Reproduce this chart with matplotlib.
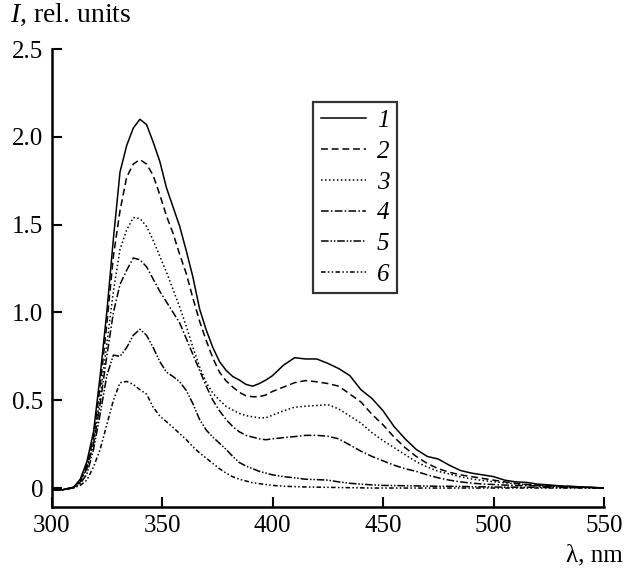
import matplotlib
matplotlib.use("Agg")
import matplotlib.pyplot as plt

wavelength = [300, 305, 310,
              313, 316, 319, 322, 325, 328, 331, 334, 337, 340,
              343, 346, 349, 352, 355, 358, 361, 364, 367, 370,
              373, 376, 379, 382, 385, 388, 391, 394, 397, 400,
              405, 410, 415, 420, 425, 430, 435, 440, 445, 450,
              455, 460, 465, 470, 475, 480, 485, 490, 495, 500,
              505, 510, 515, 520, 525, 530, 535, 540, 545, 550]

curve1 = [-0.012, -0.01, 0.005,
          0.05, 0.15, 0.32, 0.64, 1.00, 1.42, 1.80, 1.95, 2.05, 2.10,
          2.07, 1.97, 1.86, 1.71, 1.60, 1.49, 1.35, 1.20, 1.02, 0.90,
          0.80, 0.72, 0.67, 0.635, 0.615, 0.59, 0.58, 0.595, 0.615, 0.64,
          0.70, 0.742, 0.735, 0.735, 0.71, 0.68, 0.64, 0.56, 0.51, 0.44,
          0.35, 0.28, 0.22, 0.18, 0.165, 0.13, 0.10, 0.085, 0.075, 0.065,
          0.045, 0.035, 0.032, 0.022, 0.018, 0.012, 0.01, 0.006, 0.004, 0.0]

curve2 = [-0.012, -0.01, 0.004,
          0.045, 0.13, 0.29, 0.58, 0.93, 1.32, 1.58, 1.77, 1.845, 1.87,
          1.845, 1.78, 1.67, 1.55, 1.45, 1.33, 1.22, 1.08, 0.95, 0.84,
          0.74, 0.66, 0.61, 0.575, 0.545, 0.525, 0.52, 0.52, 0.53, 0.55,
          0.575, 0.60, 0.612, 0.605, 0.595, 0.58, 0.535, 0.49, 0.42, 0.36,
          0.29, 0.23, 0.18, 0.14, 0.11, 0.09, 0.075, 0.065, 0.055, 0.045,
          0.035, 0.027, 0.02, 0.015, 0.012, 0.01, 0.008, 0.005, 0.003, 0.0]

curve3 = [-0.012, -0.01, 0.004,
          0.04, 0.12, 0.27, 0.52, 0.82, 1.12, 1.36, 1.47, 1.54, 1.535,
          1.49, 1.41, 1.32, 1.23, 1.13, 1.03, 0.92, 0.80, 0.69, 0.60,
          0.54, 0.50, 0.465, 0.444, 0.425, 0.412, 0.406, 0.40, 0.40, 0.415,
          0.44, 0.46, 0.466, 0.47, 0.475, 0.45, 0.41, 0.37, 0.315, 0.27,
          0.23, 0.19, 0.15, 0.12, 0.095, 0.08, 0.064, 0.052, 0.043, 0.036,
          0.03, 0.024, 0.02, 0.015, 0.012, 0.01, 0.008, 0.005, 0.003, 0.0]

curve4 = [-0.012, -0.01, 0.003,
          0.035, 0.11, 0.25, 0.48, 0.75, 1.00, 1.16, 1.24, 1.31, 1.30,
          1.26, 1.19, 1.12, 1.06, 1.00, 0.94, 0.85, 0.76, 0.67, 0.58,
          0.50, 0.44, 0.39, 0.35, 0.32, 0.30, 0.29, 0.28, 0.275, 0.28,
          0.287, 0.293, 0.30, 0.30, 0.295, 0.28, 0.245, 0.21, 0.18, 0.155,
          0.13, 0.11, 0.095, 0.075, 0.058, 0.045, 0.035, 0.028, 0.023, 0.02,
          0.017, 0.015, 0.013, 0.012, 0.01, 0.008, 0.006, 0.004, 0.002, 0.0]

curve5 = [-0.012, -0.01, 0.002,
          0.025, 0.08, 0.22, 0.42, 0.64, 0.757, 0.75, 0.80, 0.87, 0.904,
          0.87, 0.80, 0.72, 0.66, 0.635, 0.605, 0.555, 0.48, 0.39, 0.33,
          0.29, 0.255, 0.22, 0.18, 0.145, 0.125, 0.11, 0.095, 0.085, 0.075,
          0.065, 0.058, 0.05, 0.048, 0.045, 0.035, 0.027, 0.022, 0.018, 0.015,
          0.014, 0.013, 0.012, 0.011, 0.01, 0.01, 0.009, 0.008, 0.007, 0.006,
          0.005, 0.005, 0.004, 0.004, 0.003, 0.003, 0.002, 0.002, 0.001, 0.0]

curve6 = [-0.012, -0.01, 0.0,
          0.015, 0.045, 0.12, 0.22, 0.36, 0.50, 0.60, 0.607, 0.59, 0.56,
          0.535, 0.46, 0.41, 0.378, 0.345, 0.31, 0.275, 0.235, 0.20, 0.17,
          0.14, 0.11, 0.085, 0.064, 0.05, 0.04, 0.03, 0.025, 0.02, 0.015,
          0.01, 0.008, 0.006, 0.005, 0.004, 0.003, 0.002, 0.001, 0.0, 0.0,
          0.0, 0.0, 0.0, 0.0, 0.0, 0.0, 0.0, 0.0, 0.0, 0.0,
          0.0, 0.0, 0.0, 0.0, 0.0, 0.0, 0.0, 0.0, 0.0, 0.0]

labels = ["1", "2", "3", "4", "5", "6"]
x_ticks = [300, 350, 400, 450, 500, 550]
y_ticks = [0, 0.5, 1.0, 1.5, 2.0, 2.5]
y_tick_labels = ["0", "0.5", "1.0", "1.5", "2.0", "2.5"]

plt.rcParams['font.family'] = ['Liberation Serif', 'DejaVu Serif']
plt.rcParams['mathtext.fontset'] = 'custom'
plt.rcParams['mathtext.rm'] = 'Liberation Serif'
plt.rcParams['mathtext.it'] = 'Liberation Serif:italic'

fig = plt.figure(figsize=(6.26, 5.68), dpi=100)
ax = fig.add_axes([0.0823, 0.1074, 0.8826, 0.8063])

styles = ['-', (0, (4.5, 2.5)), (0, (1, 1.6)), (0, (5, 1.5, 1, 1.5)),
          (0, (5, 1.2, 1, 1.2, 1, 1.2)), (0, (3, 1.5, 1, 1.5, 1, 1.5))]
series = [curve1, curve2, curve3, curve4, curve5, curve6]
for ys, ls, lab in zip(series, styles, labels):
    ax.plot(wavelength, ys, color='black', linestyle=ls, linewidth=1.1,
            label=lab, solid_joinstyle='round')

ax.set_xlim(300, 550)
ax.set_ylim(-0.108, 2.5)
ax.set_xticks(x_ticks)
ax.set_yticks(y_ticks)
ax.set_yticklabels(y_tick_labels)
for s in ['top', 'right']:
    ax.spines[s].set_visible(False)
for s in ['left', 'bottom']:
    ax.spines[s].set_linewidth(1.8)
ax.tick_params(direction='in', length=7, width=1.5, labelsize=18, pad=6)

leg = ax.legend(loc='upper left', bbox_to_anchor=(0.5, 0.8204),
                bbox_transform=fig.transFigure,
                prop={'family': 'Liberation Serif', 'style': 'italic', 'size': 18},
                frameon=True, fancybox=False, edgecolor='black',
                handlelength=1.8, handletextpad=0.45, labelspacing=0.33,
                borderpad=0.3, borderaxespad=0)
leg.get_frame().set_linewidth(1.6)

fig.text(0.016, 0.997, r"$I$, rel. units", ha='left', va='top', fontsize=20)
fig.text(0.995, 0.003, "λ, nm", ha='right', va='bottom', fontsize=18)

fig.savefig("out.png", dpi=100)
